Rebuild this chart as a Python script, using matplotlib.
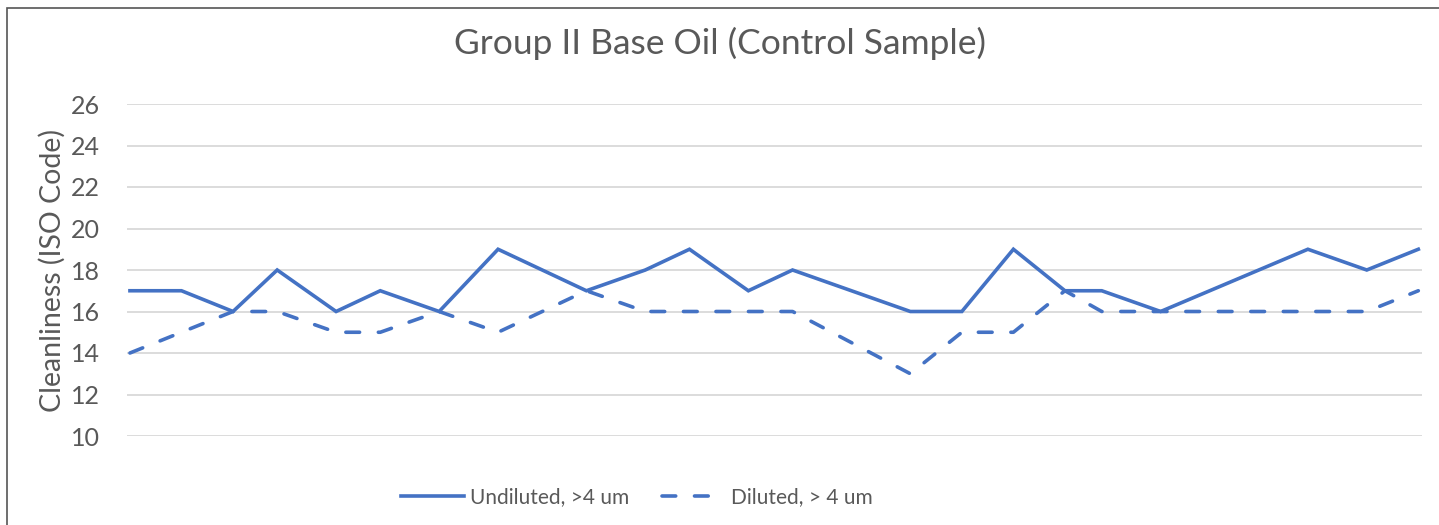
import matplotlib
matplotlib.use("Agg")
import matplotlib.pyplot as plt
from matplotlib.patches import Rectangle

# sample day (offset from first sample) and ISO codes
sample_day = [0, 7, 14, 20, 28, 34, 42, 50, 62, 70, 76, 84, 90, 106, 113, 120,
              127, 132, 140, 160, 168, 175]
undiluted = [17, 17, 16, 18, 16, 17, 16, 19, 17, 18, 19, 17, 18, 16, 16, 19,
             17, 17, 16, 19, 18, 19]
diluted = [14, 15, 16, 16, 15, 15, 16, 15, 17, 16, 16, 16, 16, 13, 15, 15,
           17, 16, 16, 16, 16, 17]
y_ticks = [10, 12, 14, 16, 18, 20, 22, 24, 26]

blue = "#4472C4"
grey_txt = "#595959"
plt.rcParams['font.family'] = ['Lato', 'DejaVu Sans']

fig = plt.figure(figsize=(14.39, 5.25), dpi=100)
ax = fig.add_axes([127 / 1439, 1 - 436 / 525, (1422 - 127) / 1439, (436 - 104) / 525])

ax.plot(sample_day, undiluted, color=blue, lw=2.6, solid_joinstyle='miter',
        label="Undiluted, >4 um")
ax.plot(sample_day, diluted, color=blue, lw=2.6, dashes=(3.8, 5.2),
        dash_capstyle='round', label="Diluted, > 4 um")

ax.set_ylim(10, 26)
ax.set_xlim(-0.4, 175.5)
ax.set_yticks(y_ticks)
ax.set_xticks([])
ax.grid(axis='y', color='#d9d9d9', lw=1.3)
ax.set_axisbelow(True)
for s in ax.spines.values():
    s.set_visible(False)
ax.tick_params(axis='y', length=0, pad=19.5, labelsize=18, labelcolor=grey_txt)
ax.set_ylabel("Cleanliness (ISO Code)", fontsize=20.5, color=grey_txt, labelpad=4)

fig.text(0.5, 1 - 43 / 525, "Group II Base Oil (Control Sample)", ha='center',
         va='center', fontsize=25.5, color=grey_txt)

leg = fig.legend(loc='center', bbox_to_anchor=(637 / 1439, 1 - 497 / 525), ncol=2,
                 frameon=False, fontsize=15, handlelength=3.0, handletextpad=0.3,
                 columnspacing=1.6)
for t in leg.get_texts():
    t.set_color(grey_txt)

# outer chart frame
fig.patches.append(Rectangle((7 / 1439, -0.01), 1.0, 1 - 8 / 525 + 0.01,
                             transform=fig.transFigure, fill=False,
                             edgecolor='#555555', lw=1.2))

fig.savefig("out.png", dpi=100)
